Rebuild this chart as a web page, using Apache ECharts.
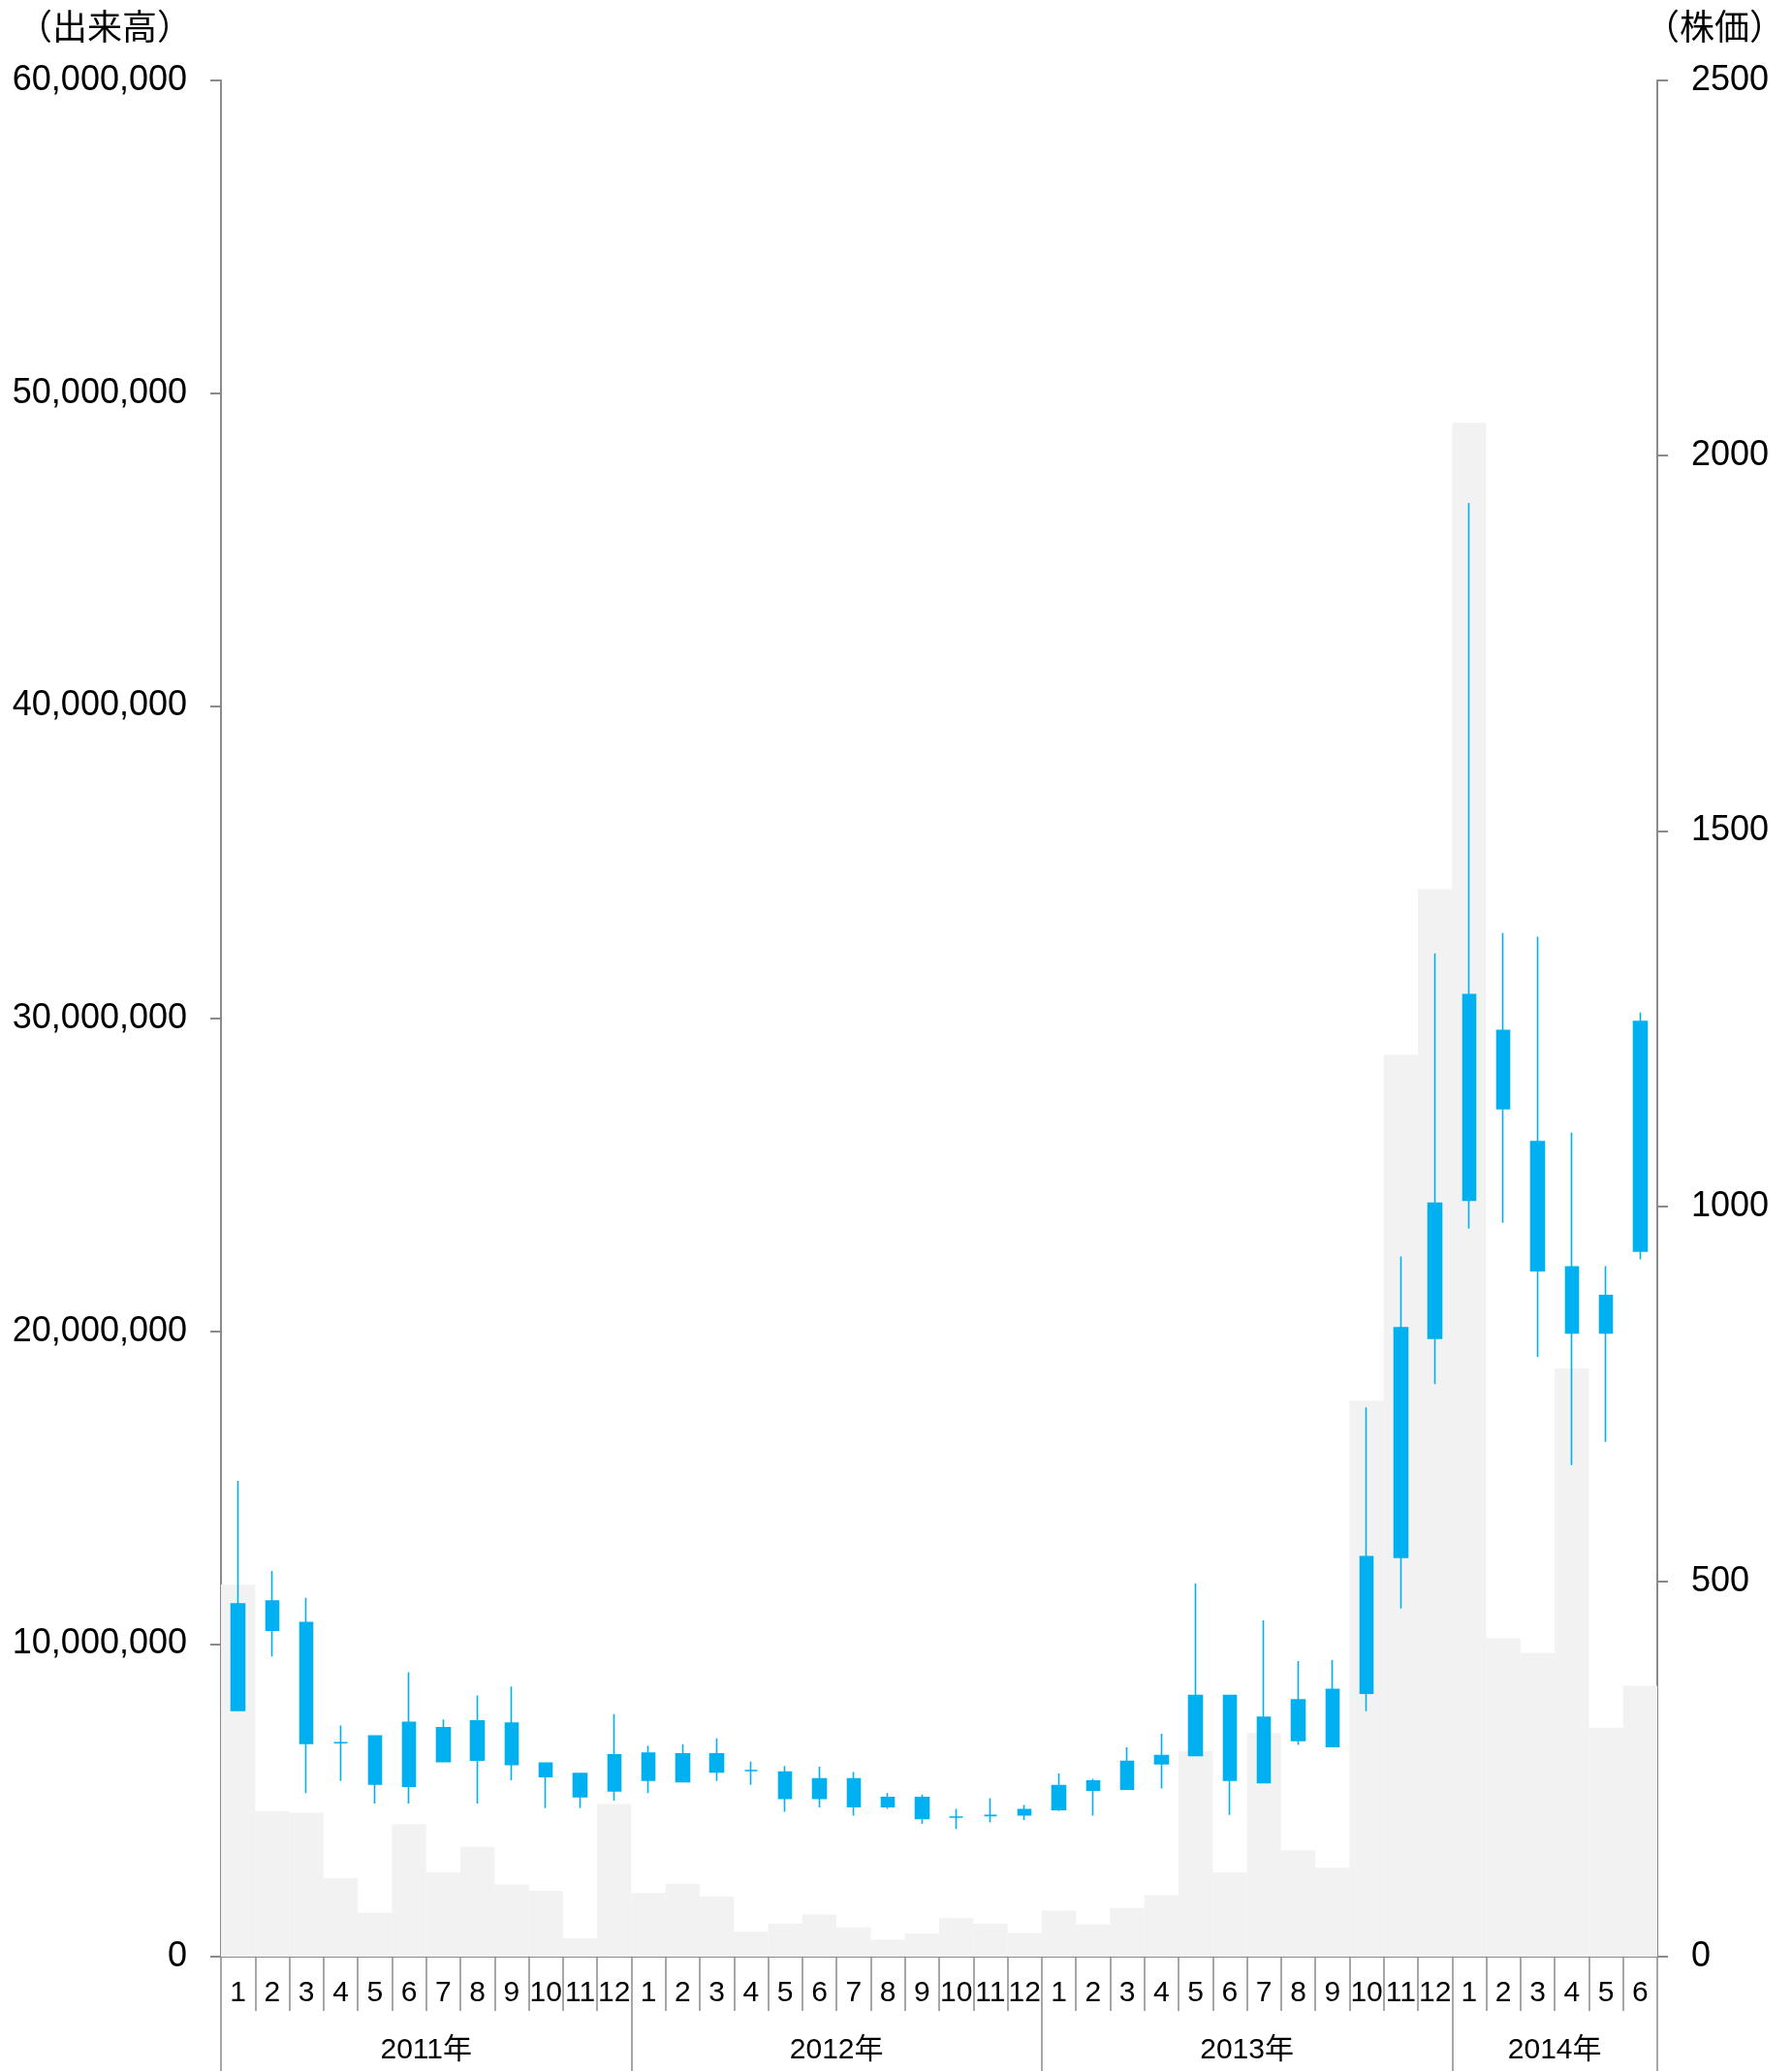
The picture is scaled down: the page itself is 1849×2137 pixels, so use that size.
<!DOCTYPE html>
<html><head><meta charset="utf-8">
<script src="https://cdn.jsdelivr.net/npm/echarts@6/dist/echarts.min.js"></script>
<style>html,body{margin:0;padding:0;background:#fff}#c{width:1849px;height:2137px}</style>
</head><body><div id="c"></div>
<script>
// ---- data ----
const yearLabels = ['2011年', '2012年', '2013年', '2014年'];
const monthsPerYear = [12, 12, 12, 6];
const yTitleLeft = '（出来高）';
const yTitleRight = '（株価）';
const volumeTicks = { min: 0, max: 60000000, interval: 10000000 };
const priceTicks = { min: 0, max: 2500, interval: 500 };

// monthly volume (shares)
const volumes = [
  11900000, 4650000, 4600000, 2510000, 1400000, 4240000, 2700000, 3510000, 2310000, 2110000, 590000, 4880000,
  2030000, 2330000, 1920000, 800000, 1050000, 1350000, 940000, 540000, 740000, 1230000, 1050000, 760000,
  1470000, 1030000, 1560000, 1970000, 6570000, 2700000, 7150000, 3400000, 2840000, 17780000, 28840000, 34140000,
  49050000, 10180000, 9710000, 18810000, 7320000, 8660000
];
// monthly prices
const opens = [
  328, 474, 445, 285, 294, 227, 305, 262, 311, 258, 244, 221,
  271, 233, 270, 248, 246, 211, 237, 200, 212, 186, 188, 189,
  196, 234, 223, 257, 268, 348, 232, 288, 280, 351, 532, 824,
  1008, 1234, 1086, 919, 831, 940
];
const closes = [
  470, 435, 284, 285, 230, 312, 260, 314, 256, 240, 213, 269,
  235, 270, 246, 248, 211, 237, 200, 212, 184, 186, 188, 196,
  228, 222, 260, 268, 348, 235, 319, 342, 356, 533, 838, 1004,
  1282, 1130, 914, 831, 881, 1246
];
const lows = [
  327, 400, 218, 234, 204, 204, 260, 204, 235, 198, 198, 208,
  218, 233, 234, 229, 193, 199, 188, 197, 177, 170, 179, 182,
  194, 188, 223, 224, 268, 189, 232, 282, 280, 327, 464, 763,
  970, 978, 799, 655, 686, 929
];
const highs = [
  634, 514, 478, 308, 294, 379, 316, 348, 360, 258, 244, 323,
  281, 283, 291, 260, 254, 253, 246, 218, 216, 197, 211, 202,
  244, 237, 279, 297, 497, 348, 448, 394, 395, 732, 933, 1337,
  1937, 1364, 1359, 1098, 920, 1258
];

// ---- build categories ----
const categories = [];
const yearLabelIndex = {};
const yearStartIndex = {};
let idx = 0;
yearLabels.forEach((y, yi) => {
  const n = monthsPerYear[yi];
  yearStartIndex[idx] = true;
  yearLabelIndex[idx + n / 2 - 1] = y;
  for (let m = 1; m <= n; m++) {
    categories.push(y + '|' + m);
  }
  idx += n;
});
const candleData = opens.map((o, i) => [o, closes[i], lows[i], highs[i]]);

const GRID = { left: 228, right: 139, top: 83, bottom: 118 };
const bandW = (1849 - GRID.left - GRID.right) / categories.length;
const AXIS_COLOR = '#8a8a8a';
const FONT = '"Liberation Sans", Arial, "Noto Sans CJK JP", sans-serif';
const BLUE = '#00b0f0';

const chart = echarts.init(document.getElementById('c'), null, { renderer: 'canvas' });
chart.setOption({
  animation: false,
  backgroundColor: '#ffffff',
  title: [
    { text: yTitleLeft, left: 18, top: 9, padding: 0,
      textStyle: { fontSize: 36, fontWeight: 'normal', color: '#000', fontFamily: '"Noto Sans CJK JP", sans-serif' } },
    { text: yTitleRight, right: 8, top: 9, padding: 0,
      textStyle: { fontSize: 36, fontWeight: 'normal', color: '#000', fontFamily: '"Noto Sans CJK JP", sans-serif' } }
  ],
  grid: { left: GRID.left, right: GRID.right, top: GRID.top, bottom: GRID.bottom, containLabel: false, outerBoundsMode: 'none' },
  xAxis: [
    {
      type: 'category', data: categories, position: 'bottom', boundaryGap: true,
      axisLine: { show: true, onZero: false, lineStyle: { color: AXIS_COLOR, width: 2 } },
      axisTick: { show: true, interval: 0, length: 56, lineStyle: { color: AXIS_COLOR, width: 1.5 } },
      axisLabel: { show: true, interval: 0, margin: 23, fontSize: 30, color: '#000', fontFamily: FONT,
        hideOverlap: false, formatter: v => v.split('|')[1] },
      splitLine: { show: false }
    },
    {
      type: 'category', data: categories, position: 'bottom', boundaryGap: true,
      axisLine: { show: false, onZero: false },
      axisTick: { show: true, length: 120, interval: i => !!yearStartIndex[i], lineStyle: { color: AXIS_COLOR, width: 1.5 } },
      axisLabel: { show: true, margin: 82, fontSize: 30, color: '#000', fontFamily: FONT, hideOverlap: false,
        padding: [0, 0, 0, bandW],
        interval: i => yearLabelIndex[i] !== undefined,
        formatter: (v, i) => yearLabelIndex[i] || '' },
      splitLine: { show: false }
    }
  ],
  yAxis: [
    {
      type: 'value', position: 'left', min: volumeTicks.min, max: volumeTicks.max, interval: volumeTicks.interval,
      axisLine: { show: true, lineStyle: { color: AXIS_COLOR, width: 2 } },
      axisTick: { show: true, inside: false, length: 11, lineStyle: { color: AXIS_COLOR, width: 2 } },
      axisLabel: { margin: 35, fontSize: 36, color: '#000', fontFamily: FONT,
        formatter: v => v.toLocaleString('en-US') },
      splitLine: { show: false }
    },
    {
      type: 'value', position: 'right', min: priceTicks.min, max: priceTicks.max, interval: priceTicks.interval,
      axisLine: { show: true, lineStyle: { color: AXIS_COLOR, width: 2 } },
      axisTick: { show: true, inside: false, length: 11, lineStyle: { color: AXIS_COLOR, width: 2 } },
      axisLabel: { margin: 35, fontSize: 36, color: '#000', fontFamily: FONT,
        formatter: v => String(v) },
      splitLine: { show: false }
    }
  ],
  series: [
    {
      name: '出来高', type: 'bar', xAxisIndex: 0, yAxisIndex: 0, data: volumes,
      barCategoryGap: '0%', barGap: '0%',
      itemStyle: { color: '#f2f2f2' }, z: 1
    },
    {
      name: '株価', type: 'candlestick', xAxisIndex: 0, yAxisIndex: 1, data: candleData,
      barWidth: 14,
      itemStyle: { color: BLUE, color0: BLUE, borderColor: BLUE, borderColor0: BLUE, borderColorDoji: BLUE, borderWidth: 1.6 },
      z: 3
    }
  ]
});
</script></body></html>
